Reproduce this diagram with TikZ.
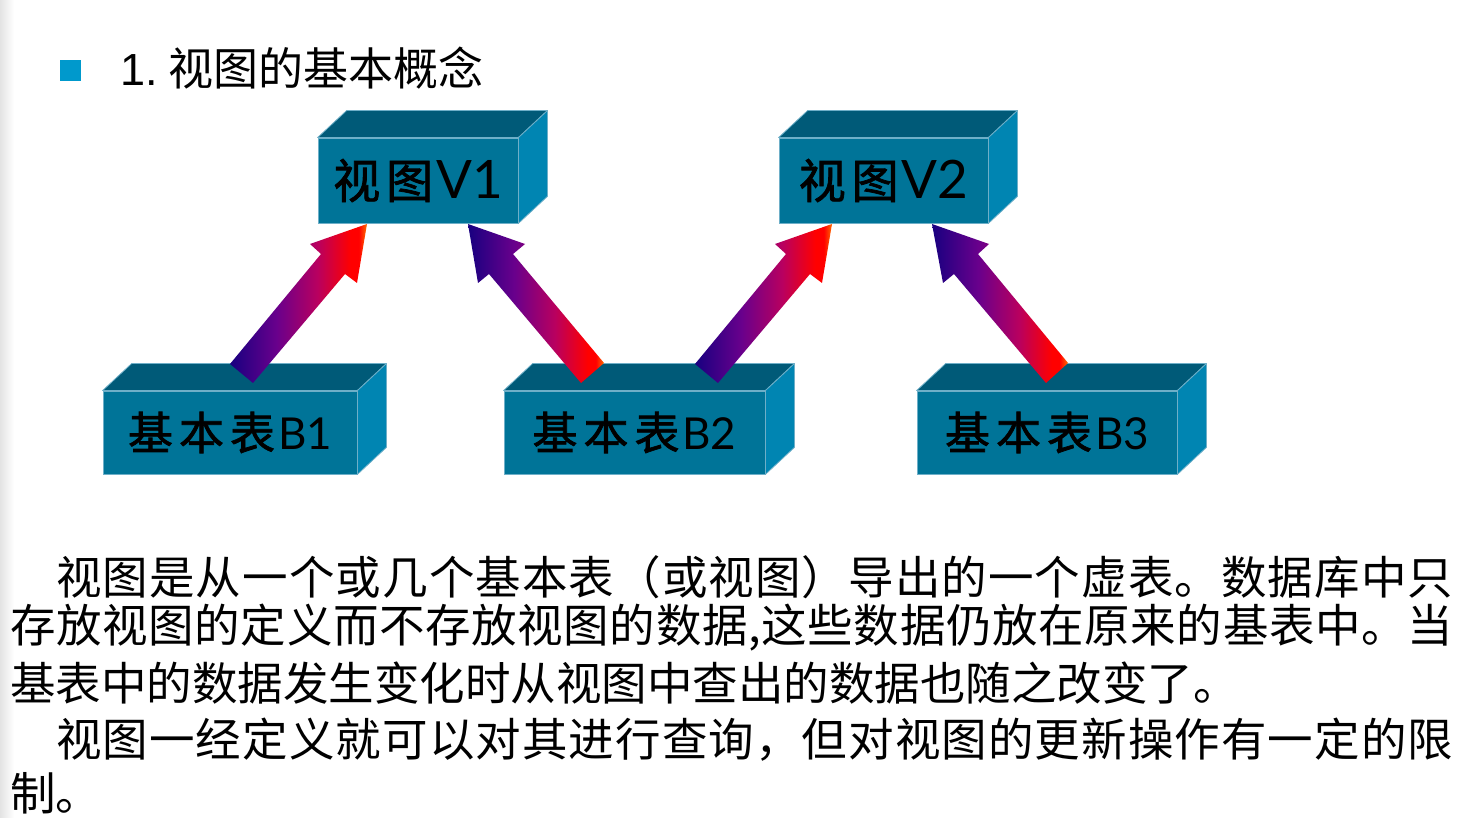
\documentclass[tikz,border=0pt]{standalone}
\usepackage{fontspec}
\setmainfont{Liberation Sans}
\newfontfamily\cjk{Noto Sans CJK SC}
\newfontfamily\cjklab[FakeBold=1.6]{Noto Sans CJK SC}
\newfontfamily\latfont{Lato}
\definecolor{frontc}{RGB}{0,116,152}
\definecolor{topc}{RGB}{0,90,120}
\definecolor{sidec}{RGB}{0,133,178}
\definecolor{edgec}{RGB}{110,175,200}
\definecolor{bulletc}{RGB}{0,153,204}
\definecolor{anavy}{RGB}{24,0,128}
\definecolor{apurple}{RGB}{105,0,140}
\definecolor{amag}{RGB}{185,0,95}
\definecolor{ared}{RGB}{255,0,0}
\definecolor{aorange}{RGB}{255,110,0}
\pgfdeclarehorizontalshading{arrowshade}{100bp}{color(0bp)=(anavy); color(25bp)=(anavy); color(42bp)=(apurple); color(57bp)=(amag); color(69bp)=(ared); color(72bp)=(ared); color(75bp)=(aorange); color(100bp)=(aorange)}
\tikzset{
  boxfront/.style={fill=frontc, draw=edgec, line width=0.8pt, inner sep=0pt, anchor=center},
  topface/.style={fill=topc, draw=edgec, line width=0.8pt, line join=round},
  sideface/.style={fill=sidec, draw=edgec, line width=0.8pt, line join=round},
  blockarrow/.style={shading=arrowshade},
  bodyline/.style={anchor=west, inner sep=0pt, font=\cjk\fontsize{45.5}{54}\selectfont}
}
\newcommand\solidbox[1]{%
  \draw[topface] (#1.north west) -- ++(29,-27) -- ([shift={(29,-27)}]#1.north east) -- (#1.north east) -- cycle;
  \draw[sideface] (#1.north east) -- ([shift={(29,-27)}]#1.north east) -- ([shift={(29,-27)}]#1.south east) -- (#1.south east) -- cycle;
}
\def\spreadchars#1{\ifx#1\relax\unskip\else#1\hfil\expandafter\spreadchars\fi}
\newcommand\vlab[1]{{\cjklab\fontsize{47}{50}\selectfont 视\hspace{6pt}图}\hspace{3pt}{\latfont\fontsize{53}{55}\selectfont #1}}
\newcommand\blab[1]{{\cjklab\fontsize{45}{50}\selectfont 基\hspace{6pt}本\hspace{6pt}表}\hspace{3pt}{\latfont\fontsize{44}{50}\selectfont #1}}
\begin{document}
\begin{tikzpicture}[x=1pt,y=-1pt]
\useasboundingbox (0,0) rectangle (1460,818);
\fill[white] (0,0) rectangle (1460,818);
\shade[left color=black!11, right color=white] (0,0) rectangle (14,818);
% title
\fill[bulletc] (60,60) rectangle (81,81);
\node[anchor=west, inner sep=0pt] (title) at (120,68) {\fontsize{45}{50}\selectfont 1.\hspace{11pt}{\cjk 视图的基本概念}};
% boxes
\node[boxfront, minimum width=200pt, minimum height=85pt] (V1) at (418,180.5) {\vlab{V1}};
\node[boxfront, minimum width=209pt, minimum height=85pt] (V2) at (883.5,180.5) {\vlab{V2}};
\node[boxfront, minimum width=254pt, minimum height=83pt] (B1) at (230,432.5) {\blab{B1}};
\node[boxfront, minimum width=261pt, minimum height=83pt] (B2) at (634.5,432.5) {\blab{B2}};
\node[boxfront, minimum width=260pt, minimum height=83pt] (B3) at (1047,432.5) {\blab{B3}};
\solidbox{V1}\solidbox{V2}\solidbox{B1}\solidbox{B2}\solidbox{B3}
% block arrows
\shade[blockarrow] (230,364) -- (321,254) -- (310,244) -- (367,224) -- (357,283) -- (345,274) -- (253,383) -- cycle;
\shade[blockarrow] (604,363) -- (513,254) -- (525,244) -- (468,224) -- (478,283) -- (489,274) -- (581,383) -- cycle;
\shade[blockarrow] (695,364) -- (786,254) -- (775,244) -- (832,224) -- (822,283) -- (810,274) -- (718,383) -- cycle;
\shade[blockarrow] (1068,363) -- (978,254) -- (989,244) -- (932,224) -- (943,283) -- (954,274) -- (1046,383) -- cycle;
% body text
\node[bodyline] (l1) at (56,577) {\hbox to 1397pt{\spreadchars 视图是从一个或几个基本表（或视图）导出的一个虚表。数据库中只\relax}};
\node[bodyline] (l2) at (10,628) {\hbox to 1443pt{\spreadchars 存放视图的定义而不存放视图的数据,这些数据仍放在原来的基表中。当\relax}};
\node[bodyline] (l3) at (10,683) {基表中的数据发生变化时从视图中查出的数据也随之改变了。};
\node[bodyline] (l4) at (56,740) {\hbox to 1397pt{\spreadchars 视图一经定义就可以对其进行查询，但对视图的更新操作有一定的限\relax}};
\node[bodyline] (l5) at (10,793) {制。};
\end{tikzpicture}
\end{document}
